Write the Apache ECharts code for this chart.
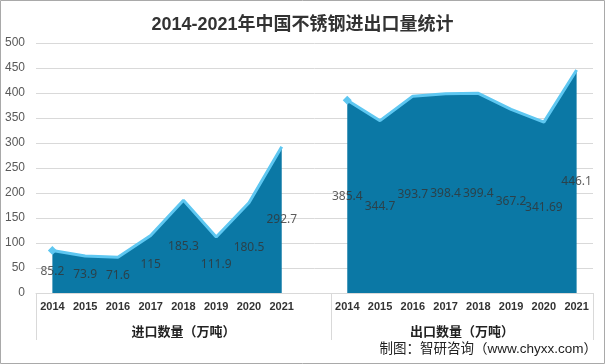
<!DOCTYPE html>
<html>
<head>
<meta charset="utf-8">
<script src="https://cdn.jsdelivr.net/npm/echarts@6/dist/echarts.min.js"></script>
<style>
html,body{margin:0;padding:0;background:#fff;}
#main{width:605px;height:364px;}
</style>
</head>
<body>
<div id="main"></div>
<script>
// ---- data ----
var years = ['2014','2015','2016','2017','2018','2019','2020','2021'];
var importValues = [85.2, 73.9, 71.6, 115, 185.3, 111.9, 180.5, 292.7];
var exportValues = [385.4, 344.7, 393.7, 398.4, 399.4, 367.2, 341.69, 446.1];
var groupNames = ['进口数量（万吨）', '出口数量（万吨）'];
var yTicks = [0, 50, 100, 150, 200, 250, 300, 350, 400, 450, 500];
var titleText = '2014-2021年中国不锈钢进出口量统计';
var creditText = '制图：智研咨询（www.chyxx.com）';

// ---- build category axis: group1 (8) + blank + group2 (8) ----
var categories = years.concat(['']).concat(years);
var nA = years.length + 1;           // first group size incl. blank
var total = categories.length;       // 17
var pad = function (n) { var a = []; for (var i = 0; i < n; i++) a.push('-'); return a; };

function withFirstMarker(arr) {
  return arr.map(function (v, i) {
    return i === 0 ? { value: v, symbol: 'diamond', symbolSize: 9 } : v;
  });
}
var impSeriesData = withFirstMarker(importValues).concat(pad(total - importValues.length));
var expSeriesData = pad(nA).concat(withFirstMarker(exportValues));

var labelData = [];
importValues.forEach(function (v, i) { labelData.push([i, v / 2, v]); });
exportValues.forEach(function (v, i) { labelData.push([nA + i, v / 2, v]); });

var fillColor = '#0b78a5';
var lineColor = '#5ec7f1';

var chart = echarts.init(document.getElementById('main'), null, { renderer: 'canvas' });
chart.setOption({
  animation: false,
  backgroundColor: '#fff',
  title: [{
    text: titleText,
    left: 'center',
    top: 11,
    textStyle: { fontSize: 18, fontWeight: 'bold', color: '#333', fontFamily: 'Liberation Sans, Noto Sans CJK SC' }
  }, {
    text: creditText,
    right: 3,
    bottom: 3,
    textStyle: { fontSize: 13.5, fontWeight: 'normal', color: '#222', fontFamily: 'Liberation Sans, Noto Sans CJK SC' }
  }],
  graphic: [{
    type: 'rect',
    shape: { x: 0.5, y: 0.5, width: 604, height: 363 },
    style: { fill: 'none', stroke: '#a9a9a9', lineWidth: 1 },
    silent: true
  }],
  grid: { left: 36, right: 12, top: 43, bottom: 71 },
  xAxis: [{
    type: 'category',
    data: categories,
    boundaryGap: true,
    axisLine: { show: true, lineStyle: { color: '#d9d9d9', width: 1 } },
    axisTick: { show: false },
    axisLabel: {
      interval: 0, margin: 8, fontSize: 11, fontWeight: 'bold', color: '#333',
      fontFamily: 'Liberation Sans'
    },
    splitLine: { show: false }
  }, {
    type: 'value',
    min: 0,
    max: total,
    position: 'bottom',
    axisLine: { show: false },
    splitLine: { show: false },
    axisTick: {
      show: true,
      customValues: [0, nA, total],
      length: 47,
      lineStyle: { color: '#d9d9d9', width: 1 }
    },
    axisLabel: {
      show: true,
      customValues: [nA / 2, nA + (total - nA) / 2],
      formatter: function (v) { return v < nA ? groupNames[0] : groupNames[1]; },
      margin: 33,
      fontSize: 13,
      fontWeight: 'bold',
      color: '#222',
      fontFamily: 'Liberation Sans, Noto Sans CJK SC'
    }
  }],
  yAxis: {
    type: 'value',
    min: yTicks[0],
    max: yTicks[yTicks.length - 1],
    interval: yTicks[1] - yTicks[0],
    axisLine: { show: false },
    axisTick: { show: false },
    axisLabel: { margin: 11, fontSize: 12, color: '#595959', fontFamily: 'Liberation Sans' },
    splitLine: { show: true, lineStyle: { color: '#d9d9d9', width: 1 } }
  },
  series: [{
    name: groupNames[0],
    type: 'line',
    data: impSeriesData,
    symbol: 'none',
    itemStyle: { color: lineColor },
    lineStyle: { color: lineColor, width: 3 },
    areaStyle: { color: fillColor, opacity: 1 },
    connectNulls: false,
    z: 2
  }, {
    name: groupNames[1],
    type: 'line',
    data: expSeriesData,
    symbol: 'none',
    itemStyle: { color: lineColor },
    lineStyle: { color: lineColor, width: 3 },
    areaStyle: { color: fillColor, opacity: 1 },
    connectNulls: false,
    z: 2
  }, {
    type: 'scatter',
    data: labelData,
    symbolSize: 0,
    itemStyle: { color: 'rgba(0,0,0,0)' },
    label: {
      show: true,
      position: 'inside',
      formatter: function (p) { return String(p.value[2]); },
      fontSize: 12,
      color: '#333',
      fontFamily: 'Noto Sans'
    },
    z: 5
  }]
});
</script>
</body>
</html>
